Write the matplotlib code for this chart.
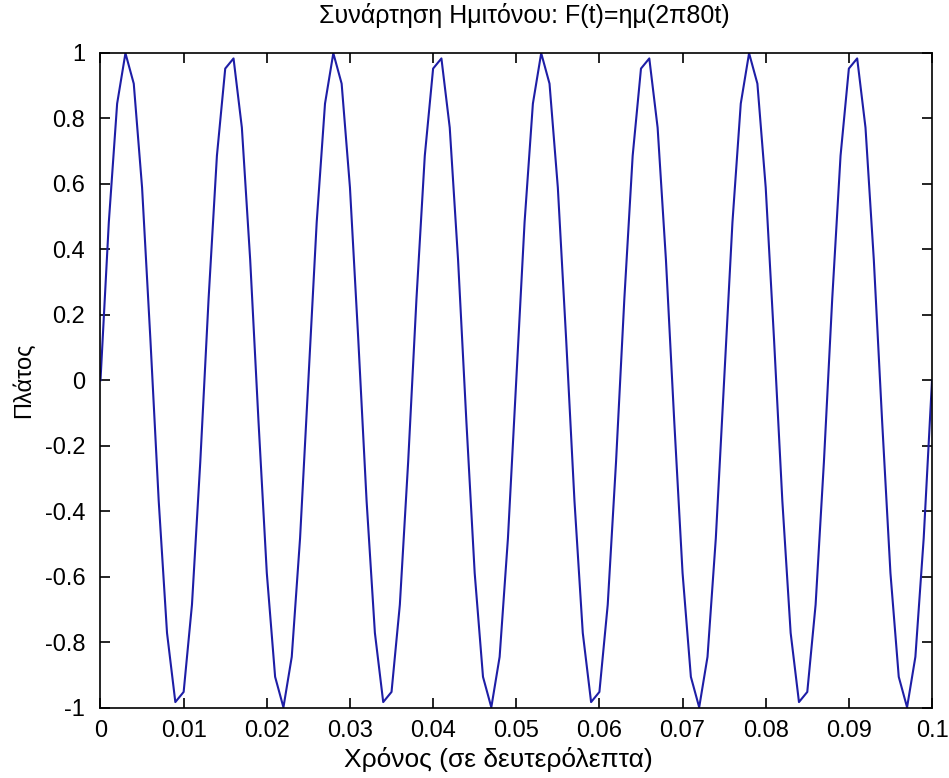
import matplotlib
matplotlib.use('Agg')
import matplotlib.pyplot as plt
import numpy as np

# samples of the 80 Hz sine, one sample every 1 ms
amplitude = [
    0.000, 0.482, 0.844, 0.998, 0.905, 0.588, 0.125, -0.368, -0.771, -0.982,
    -0.951, -0.685, -0.249, 0.249, 0.685, 0.951, 0.982, 0.771, 0.368, -0.125,
    -0.588, -0.905, -0.998, -0.844, -0.482,
    0.000, 0.482, 0.844, 0.998, 0.905, 0.588, 0.125, -0.368, -0.771, -0.982,
    -0.951, -0.685, -0.249, 0.249, 0.685, 0.951, 0.982, 0.771, 0.368, -0.125,
    -0.588, -0.905, -0.998, -0.844, -0.482,
    0.000, 0.482, 0.844, 0.998, 0.905, 0.588, 0.125, -0.368, -0.771, -0.982,
    -0.951, -0.685, -0.249, 0.249, 0.685, 0.951, 0.982, 0.771, 0.368, -0.125,
    -0.588, -0.905, -0.998, -0.844, -0.482,
    0.000, 0.482, 0.844, 0.998, 0.905, 0.588, 0.125, -0.368, -0.771, -0.982,
    -0.951, -0.685, -0.249, 0.249, 0.685, 0.951, 0.982, 0.771, 0.368, -0.125,
    -0.588, -0.905, -0.998, -0.844, -0.482,
    0.000,
]
sample_step = 0.001  # seconds
t = np.arange(len(amplitude)) * sample_step

xticks = [0, 0.01, 0.02, 0.03, 0.04, 0.05, 0.06, 0.07, 0.08, 0.09, 0.1]
xticklabels = ['0', '0.01', '0.02', '0.03', '0.04', '0.05', '0.06', '0.07', '0.08', '0.09', '0.1']
yticks = [-1, -0.8, -0.6, -0.4, -0.2, 0, 0.2, 0.4, 0.6, 0.8, 1]
yticklabels = ['-1', '-0.8', '-0.6', '-0.4', '-0.2', '0', '0.2', '0.4', '0.6', '0.8', '1']

title = 'Συνάρτηση Ημιτόνου: F(t)=ημ(2π80t)'
xlabel = 'Χρόνος (σε δευτερόλεπτα)'
ylabel = 'Πλάτος'

plt.rcParams['font.family'] = ['Liberation Sans', 'DejaVu Sans']

fig = plt.figure(figsize=(9.49, 7.78), dpi=100)
ax = fig.add_axes([0.1059, 0.090, 0.8762, 0.8425])

ax.plot(t, amplitude, color='#1e1ea6', linewidth=1.5)

ax.set_xlim(0, 0.1)
ax.set_ylim(-1, 1)
ax.set_xticks(xticks)
ax.set_xticklabels(xticklabels)
ax.set_yticks(yticks)
ax.set_yticklabels(yticklabels)
ax.tick_params(direction='in', length=7, width=1.2, top=True, right=True,
               labelsize=17)
ax.tick_params(axis='x', pad=9)
ax.tick_params(axis='y', pad=11)
for s in ax.spines.values():
    s.set_linewidth(1.2)

ax.set_title(title, fontsize=18, pad=21, x=0.51)
ax.set_xlabel(xlabel, fontsize=19)
ax.xaxis.set_label_coords(0.478, -0.06)
ax.set_ylabel(ylabel, fontsize=17)
ax.yaxis.set_label_coords(-0.079, 0.5)

fig.savefig('out.png', dpi=100)
